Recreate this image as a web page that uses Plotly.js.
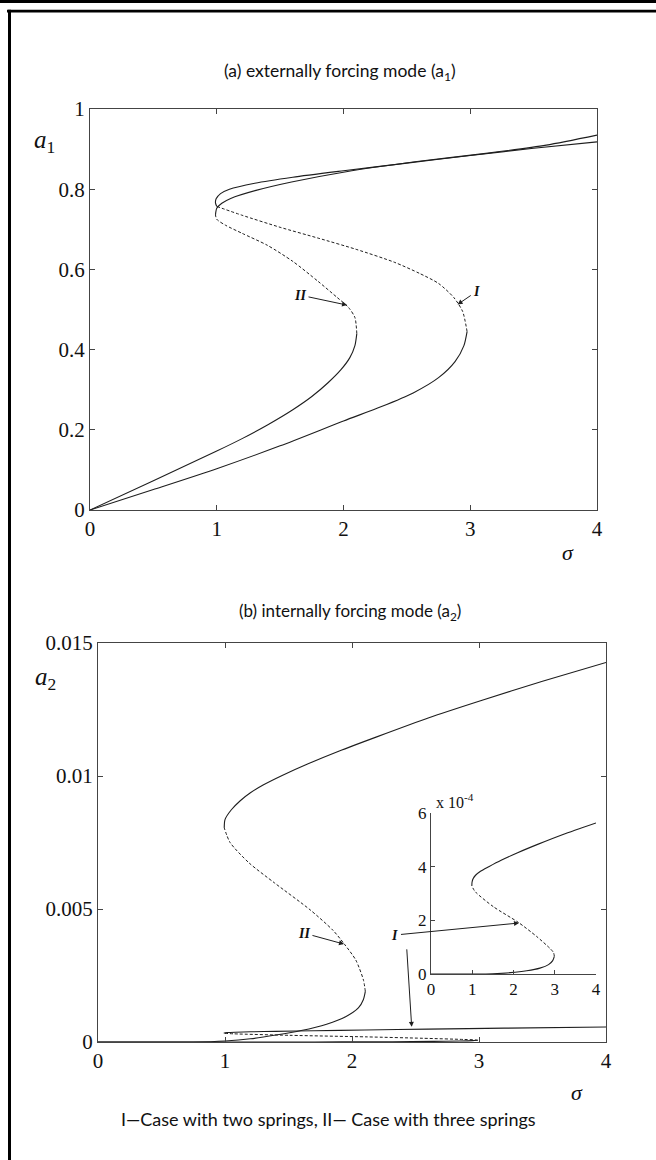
<!DOCTYPE html>
<html>
<head>
<meta charset="utf-8">
<script src="https://cdn.plot.ly/plotly-3.0.1.min.js"></script>
<style>
html,body{margin:0;padding:0;background:#fff;}
#chart{width:656px;height:1160px;}
</style>
</head>
<body>
<div id="chart"></div>
<script>
// ---------- Panel (a): externally forcing mode a1 ----------
// Curve I (two springs)
const aI_low_s   = [0, 0.5, 1.0, 1.5, 2.0, 2.3, 2.55, 2.75, 2.88, 2.95, 2.975];
const aI_low_a   = [0, 0.051, 0.103, 0.16, 0.222, 0.258, 0.292, 0.33, 0.37, 0.41, 0.445];
const aI_uns_s   = [2.975, 2.94, 2.87, 2.75, 2.6, 2.4, 2.1, 1.8, 1.5, 1.2, 1.0];
const aI_uns_a   = [0.445, 0.495, 0.53, 0.565, 0.59, 0.618, 0.65, 0.678, 0.705, 0.735, 0.757];
const aI_up_s    = [1.0, 0.99, 0.995, 1.03, 1.1, 1.3, 1.6, 2.0, 2.5, 3.0, 3.5, 4.0];
const aI_up_a    = [0.757, 0.766, 0.776, 0.789, 0.80, 0.815, 0.83, 0.846, 0.865, 0.884, 0.902, 0.918];
// Curve II (three springs)
const aII_low_s  = [0, 0.5, 1.0, 1.2, 1.4, 1.6, 1.75, 1.88, 1.98, 2.05, 2.09, 2.105];
const aII_low_a  = [0, 0.073, 0.147, 0.178, 0.212, 0.25, 0.283, 0.318, 0.35, 0.38, 0.41, 0.44];
const aII_uns_s  = [2.105, 2.09, 2.04, 1.95, 1.8, 1.6, 1.4, 1.2, 1.07, 1.0, 0.99];
const aII_uns_a  = [0.44, 0.48, 0.505, 0.53, 0.57, 0.62, 0.66, 0.69, 0.71, 0.725, 0.736];
const aII_up_s   = [0.99, 1.0, 1.04, 1.11, 1.31, 1.59, 2.01, 2.58, 3.14, 3.6, 4.0];
const aII_up_a   = [0.736, 0.7525, 0.765, 0.777, 0.797, 0.818, 0.843, 0.869, 0.89, 0.91, 0.935];

// ---------- Panel (b): internally forcing mode a2 ----------
// Curve II (three springs)
const bII_low_s  = [0, 0.75, 1.0, 1.2, 1.4, 1.6, 1.8, 1.95, 2.05, 2.09, 2.105];
const bII_low_a  = [0, 0, 0.00004, 0.00012, 0.00026, 0.00043, 0.00067, 0.00095, 0.00128, 0.0016, 0.0019];
const bII_uns_s  = [2.105, 2.09, 2.03, 1.94, 1.85, 1.67, 1.39, 1.19, 1.04, 0.994];
const bII_uns_a  = [0.0019, 0.00233, 0.00308, 0.00368, 0.0042, 0.00497, 0.00598, 0.00673, 0.0075, 0.00805];
const bII_up_s   = [0.994, 1.0, 1.05, 1.12, 1.2, 1.3, 1.45, 1.65, 1.9, 2.2, 2.6, 3.0, 3.5, 4.0];
const bII_up_a   = [0.00805, 0.00836, 0.00873, 0.00907, 0.00937, 0.00966, 0.01002, 0.01045, 0.01094, 0.01148, 0.01218, 0.01281, 0.01356, 0.01427];
// Curve I (two springs) - also shown magnified in the inset
const bI_low_s   = [0, 1.0, 1.5, 1.92, 2.32, 2.64, 2.85, 2.95, 2.99];
const bI_low_a   = [0, 0, 0.000001, 0.000005, 0.000012, 0.000022, 0.000035, 0.00005, 0.000066];
const bI_uns_s   = [2.99, 2.97, 2.88, 2.56, 2.12, 1.51, 1.07, 0.99];
const bI_uns_a   = [0.000066, 0.00008, 0.000096, 0.00014, 0.000192, 0.000251, 0.000307, 0.000328];
const bI_up_s    = [0.99, 0.995, 1.02, 1.08, 1.2, 1.4, 1.7, 2.1, 2.6, 3.2, 4.0];
const bI_up_a    = [0.000328, 0.000342, 0.000355, 0.000368, 0.000383, 0.0004, 0.000424, 0.000452, 0.000484, 0.00052, 0.000563];

// Tick labels
const xTicks    = [0, 1, 2, 3, 4];
const xTickText = ['0', '1', '2', '3', '4'];
const yA_ticks  = [0, 0.2, 0.4, 0.6, 0.8, 1];
const yA_text   = ['0', '0.2', '0.4', '0.6', '0.8', '1'];
const yB_ticks  = [0, 0.005, 0.01, 0.015];
const yB_text   = ['0', '0.005', '0.01', '0.015'];
const yIn_ticks = [0, 0.0002, 0.0004, 0.0006];
const yIn_text  = ['0', '2', '4', '6'];

// Annotation arrow heads (data coordinates)
const arrowA_II = [2.028, 0.511];
const arrowA_I  = [2.90, 0.5125];
const arrowB_II = [1.937, 0.00368];
const arrowB_I_inset = [2.133, 0.00019];
const arrowB_I_main  = [2.47, 0.00057];

// ---------- build ----------
const W = 656, H = 1160;
const LC = '#1e1e1e';
function line(xs, ys, xa, ya, dashed) {
  return {x: xs, y: ys, xaxis: xa, yaxis: ya, type: 'scatter', mode: 'lines',
          line: {color: LC, width: dashed ? 1 : 1.1, dash: dashed ? '3px,2px' : 'solid',
                 shape: 'spline', smoothing: 0.7},
          hoverinfo: 'skip', showlegend: false};
}
const traces = [
  line(aI_low_s, aI_low_a, 'x', 'y', false),
  line(aI_uns_s, aI_uns_a, 'x', 'y', true),
  line(aI_up_s, aI_up_a, 'x', 'y', false),
  line(aII_low_s, aII_low_a, 'x', 'y', false),
  line(aII_uns_s, aII_uns_a, 'x', 'y', true),
  line(aII_up_s, aII_up_a, 'x', 'y', false),

  line(bII_low_s, bII_low_a, 'x2', 'y2', false),
  line(bII_uns_s, bII_uns_a, 'x2', 'y2', true),
  line(bII_up_s, bII_up_a, 'x2', 'y2', false),
  line(bI_low_s, bI_low_a, 'x2', 'y2', false),
  line(bI_uns_s, bI_uns_a, 'x2', 'y2', true),
  line(bI_up_s, bI_up_a, 'x2', 'y2', false),

  line(bI_low_s, bI_low_a, 'x3', 'y3', false),
  line(bI_uns_s, bI_uns_a, 'x3', 'y3', true),
  line(bI_up_s, bI_up_a, 'x3', 'y3', false)
];

const serif = 'Liberation Serif, Times New Roman, serif';
const sans = 'Lato, Open Sans, DejaVu Sans, sans-serif';
const px = v => v / W, py = v => 1 - v / H;

function axis(dom, rng, tv, tt, anchor, mirror, fs) {
  return {domain: dom, range: rng, anchor: anchor, tickmode: 'array', tickvals: tv, ticktext: tt,
          ticks: 'inside', ticklen: mirror ? 5 : 4, tickcolor: '#444', tickwidth: 1,
          showline: true, linecolor: '#444', linewidth: 1, mirror: mirror ? 'ticks' : false,
          showgrid: false, zeroline: false, fixedrange: true,
          tickfont: {family: serif, size: fs, color: '#111'}};
}

const layout = {
  width: W, height: H, margin: {l: 0, r: 0, t: 0, b: 0},
  paper_bgcolor: '#fff', plot_bgcolor: 'rgba(0,0,0,0)', showlegend: false,
  xaxis:  axis([px(90), px(597)], [0, 4], xTicks, xTickText, 'y', true, 21),
  yaxis:  axis([py(510), py(109)], [0, 1], yA_ticks, yA_text, 'x', true, 21),
  xaxis2: axis([px(98), px(606)], [0, 4], xTicks, xTickText, 'y2', true, 21),
  yaxis2: axis([py(1042), py(643)], [0, 0.015], yB_ticks, yB_text, 'x2', true, 21),
  xaxis3: axis([px(431), px(596)], [0, 4], xTicks, xTickText, 'y3', false, 17),
  yaxis3: axis([py(974), py(813)], [0, 0.0006], yIn_ticks, yIn_text, 'x3', false, 17),
  shapes: [
    {type: 'rect', xref: 'paper', yref: 'paper', x0: 0, x1: 1, y0: py(3), y1: 1, fillcolor: '#000', line: {width: 0}},
    {type: 'rect', xref: 'paper', yref: 'paper', x0: px(7), x1: 1, y0: py(12.5), y1: py(9.8), fillcolor: '#000', line: {width: 0}},
    {type: 'rect', xref: 'paper', yref: 'paper', x0: px(8), x1: px(11), y0: 0, y1: py(9.8), fillcolor: '#000', line: {width: 0}}
  ],
  annotations: []
};

const A = layout.annotations;
function txt(t, x, y, font) {
  A.push({text: t, xref: 'paper', yref: 'paper', x: px(x), y: py(y),
    xanchor: 'center', yanchor: 'middle', showarrow: false, font: font});
}
function larrow(t, head, xr, yr, ax, ay) {
  A.push({text: t, xref: xr, yref: yr, x: head[0], y: head[1], ax: ax, ay: ay,
    font: {family: serif, size: 14, color: '#111'},
    showarrow: true, arrowhead: 2, arrowsize: 1, arrowwidth: 1, arrowcolor: LC, standoff: 0, startstandoff: 1});
}

txt('(a) externally forcing mode (a<sub>1</sub>)', 340, 72, {family: sans, size: 17.5, color: '#111'});
txt('(b) internally forcing mode (a<sub>2</sub>)', 350, 612, {family: sans, size: 17, color: '#111'});
txt('I\u2014Case with two springs, II\u2014 Case with three springs', 329, 1119, {family: sans, size: 18, color: '#111'});

txt('<i>a</i><sub>1</sub>', 44, 142, {family: serif, size: 25, color: '#111'});
txt('<i>a</i><sub>2</sub>', 45, 678, {family: serif, size: 25, color: '#111'});
txt('<i>\u03c3</i>', 568, 552, {family: serif, size: 22, color: '#111'});
txt('<i>\u03c3</i>', 577, 1092, {family: serif, size: 22, color: '#111'});
txt('x 10<sup>-4</sup>', 455, 801, {family: serif, size: 16, color: '#111'});

larrow('<b><i>II</i></b>', arrowA_II, 'x', 'y', -47, -10);
larrow('<b><i>I</i></b>', arrowA_I, 'x', 'y', 19, -13);
larrow('<b><i>II</i></b>', arrowB_II, 'x2', 'y2', -40, -11);
larrow('<b><i>I</i></b>', arrowB_I_inset, 'x3', 'y3', -124, 12);
A.push({text: '', xref: 'x2', yref: 'y2', x: arrowB_I_main[0], y: arrowB_I_main[1], ax: -5, ay: -79,
  showarrow: true, arrowhead: 2, arrowsize: 1, arrowwidth: 1, arrowcolor: LC, standoff: 0});

Plotly.newPlot('chart', traces, layout, {staticPlot: true, displayModeBar: false});
</script>
</body>
</html>
